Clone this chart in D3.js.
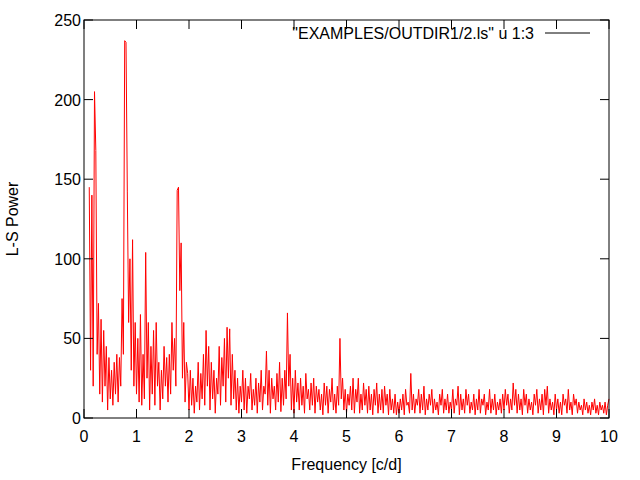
<!DOCTYPE html><html><head><meta charset="utf-8">
<script src="https://cdn.jsdelivr.net/npm/d3@7"></script>
<style>body{margin:0;background:#fff}text{font-family:"Liberation Sans",Arial,sans-serif;font-size:16px}</style></head><body>
<svg id="c" width="640" height="480"></svg>
<script>
const startFreq = 0.1, stepFreq = 0.025;
const power01 = [145,30,140,20,205,168,40,72,15,62,10,55,20,45,5,38,12,30,8,35,15,40,10,38,20,75,40,237,236,142,60,100,30,112,20,60];
const power12 = [15,50,10,65,8,40,12,104,25,60,5,45,15,55,8,60,20,35,5,30,12,45,20,38,10,40,15,60,30,50,20,143,145,80,110,25,60,10,35,28];
const power23 = [5,30,8,25,3,20,10,35,5,28,12,40,8,55,20,45,5,35,12,30,3,25,15,45,8,38,20,50,10,57,25,56,8,40,12,30,5,25,3,20];
const power34 = [10,30,5,25,3,20,12,28,5,18,8,25,3,22,10,30,5,20,15,42,8,30,3,25,12,20,5,28,10,35,4,25,8,30,12,66,20,40,5,25];
const power45 = [3,30,10,22,5,25,8,20,3,28,12,18,5,22,8,25,3,20,10,18,5,15,2,22,8,20,3,18,10,25,5,15,3,20,8,50,12,25,5,18];
const power56 = [3,15,8,20,5,25,3,18,10,25,3,15,5,22,8,18,3,20,5,15,2,18,8,22,3,15,5,18,3,20,8,15,2,18,5,12,3,15,2,10];
const power67 = [3,12,5,15,2,18,8,10,3,28,5,15,3,12,8,18,3,15,5,20,2,12,5,15,8,18,3,12,5,10,2,15,8,18,3,12,5,15,3,10];
const power78 = [5,18,3,12,8,20,2,15,5,12,3,18,8,15,3,10,5,15,2,12,5,18,3,12,8,15,2,10,5,18,3,12,5,15,2,10,5,12,3,15];
const power89 = [5,18,8,15,3,12,5,22,8,18,3,15,5,12,2,18,8,15,3,12,5,10,2,15,8,18,3,12,5,15,2,18,8,20,3,12,5,10,2,15];
const power910 = [5,12,3,10,2,15,8,12,3,18,5,10,2,15,8,12,3,10,5,8,2,12,5,10,3,8,2,10,5,12,3,8,2,10,5,8,3,10,2,8,12];
const xTicks = [0,1,2,3,4,5,6,7,8,9,10];
const yTicks = [0,50,100,150,200,250];
const legendLabel = '"EXAMPLES/OUTDIR1/2.ls" u 1:3';

const power = [].concat(power01,power12,power23,power34,power45,power56,power67,power78,power89,power910);
const data = power.map((v,i)=>({f:startFreq+i*stepFreq,p:v}));
const L=84,R=609,T=20,B=418;
const x=d3.scaleLinear().domain([0,10]).range([L,R]);
const y=d3.scaleLinear().domain([0,250]).range([B,T]);
const svg=d3.select("#c");
svg.append("path").datum(data).attr("fill","none").attr("stroke","#f00").attr("stroke-width",1)
 .attr("d",d3.line().x(d=>x(d.f)).y(d=>y(d.p)));
svg.append("rect").attr("x",L).attr("y",T).attr("width",R-L).attr("height",B-T).attr("fill","none").attr("stroke","#000");
const g=svg.append("g").attr("stroke","#000");
xTicks.forEach(t=>{g.append("line").attr("x1",x(t)).attr("x2",x(t)).attr("y1",B).attr("y2",B-9);
 g.append("line").attr("x1",x(t)).attr("x2",x(t)).attr("y1",T).attr("y2",T+9);
 svg.append("text").attr("x",x(t)).attr("y",B+24).attr("text-anchor","middle").text(t);});
yTicks.forEach(t=>{g.append("line").attr("x1",L).attr("x2",L+9).attr("y1",y(t)).attr("y2",y(t));
 g.append("line").attr("x1",R).attr("x2",R-9).attr("y1",y(t)).attr("y2",y(t));
 svg.append("text").attr("x",L-3).attr("y",y(t)+6).attr("text-anchor","end").text(t);});
svg.append("text").attr("x",(L+R)/2).attr("y",470).attr("text-anchor","middle").text("Frequency [c/d]");
svg.append("text").attr("transform","translate(18,"+((T+B)/2)+") rotate(-90)").attr("text-anchor","middle").text("L-S Power");
svg.append("text").attr("x",534).attr("y",39).attr("text-anchor","end").text(legendLabel);
svg.append("line").attr("x1",545).attr("x2",590).attr("y1",33).attr("y2",33).attr("stroke","#000");
</script></body></html>
